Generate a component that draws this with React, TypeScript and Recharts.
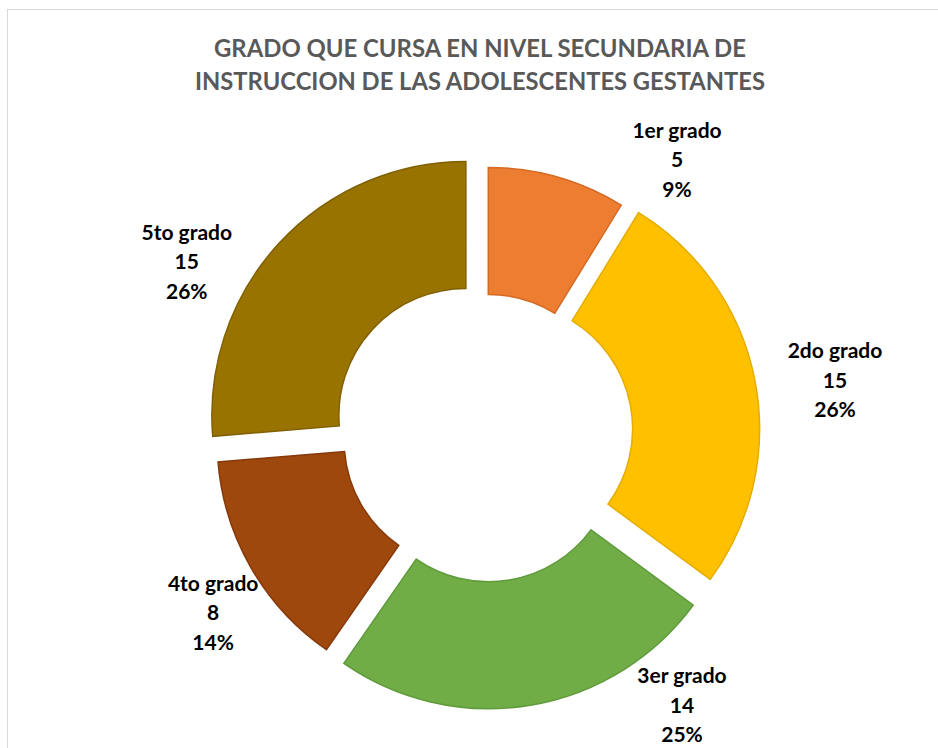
import React from 'react';
import { PieChart, Pie, Cell } from 'recharts';

const CATEGORIES = ['1er grado', '2do grado', '3er grado', '4to grado', '5to grado'];
const VALUES = [5, 15, 14, 8, 15];
const TITLE_LINES = ['GRADO QUE CURSA EN NIVEL SECUNDARIA DE', 'INSTRUCCION DE LAS ADOLESCENTES GESTANTES'];
const TITLE_WIDTHS = [532, 570];

const COLORS = ['#ED7D31', '#FFC000', '#70AD47', '#9E480E', '#997300'];
const STROKES = ['#d46a24', '#e6ad00', '#5f9a3b', '#86390a', '#806000'];
const EXPLODE = [12, 21, 22, 16, 26];
const LABEL_ANGLE = [54.9, 8.6, -54.1, 213.5, 150.1];
const LABEL_RADIUS = [334, 354, 336, 326, 344];

const CX = 480;
const CY = 428;
const R_OUT = 254;
const R_IN = 127;
const FONT = 'Lato, "Open Sans", sans-serif';
const LABEL_SIZE = 21;

const data = CATEGORIES.map((name, i) => ({ name, value: VALUES[i] }));
const total = VALUES.reduce((a, b) => a + b, 0);
const midAngles = (() => {
  let acc = 0;
  return VALUES.map((v) => {
    const start = 90 - (acc / total) * 360;
    acc += v;
    const end = 90 - (acc / total) * 360;
    return (start + end) / 2;
  });
})();

const RAD = Math.PI / 180;

const renderLabel = (props: any) => {
  const { cx, cy, index, value, percent, name } = props;
  const a = LABEL_ANGLE[index] * RAD;
  const x = cx + LABEL_RADIUS[index] * Math.cos(a);
  const y = cy - LABEL_RADIUS[index] * Math.sin(a);
  const lines = [name, String(value), `${Math.round(percent * 100)}%`];
  return (
    <g key={`lbl-${index}`}>
      {lines.map((t, k) => (
        <text
          key={k}
          x={x}
          y={y + (k - 1) * 29.5 + LABEL_SIZE * 0.36}
          textAnchor="middle"
          fontFamily={FONT}
          fontWeight={700}
          fontSize={LABEL_SIZE}
          fill="#000"
        >
          {t}
        </text>
      ))}
    </g>
  );
};

export default function App() {
  return (
    <div style={{ position: 'absolute', left: 0, top: 0, width: 938, height: 748, overflow: 'hidden', background: '#fff' }}>
      <div style={{ position: 'absolute', left: 7, top: 9, width: 980, height: 800, border: '1px solid #d9d9d9' }} />
      <div style={{ position: 'absolute', left: 0, top: 0 }}>
        <PieChart width={938} height={748}>
          {TITLE_LINES.map((t, i) => (
            <text
              key={i}
              x={480}
              y={48 + i * 33 + 9}
              textAnchor="middle"
              fontFamily={FONT}
              fontWeight={700}
              fontSize={25}
              textLength={TITLE_WIDTHS[i]}
              lengthAdjust="spacingAndGlyphs"
              fill="#595959"
            >
              {t}
            </text>
          ))}
          {VALUES.map((_, i) => (
            <Pie
              key={`pie-${i}`}
              data={data}
              dataKey="value"
              nameKey="name"
              cx={CX + EXPLODE[i] * Math.cos(midAngles[i] * RAD)}
              cy={CY - EXPLODE[i] * Math.sin(midAngles[i] * RAD)}
              innerRadius={R_IN}
              outerRadius={R_OUT}
              startAngle={90}
              endAngle={-270}
              isAnimationActive={false}
              label={false}
              labelLine={false}
            >
              {data.map((d, j) => (
                <Cell
                  key={`c-${j}`}
                  fill={j === i ? COLORS[j] : 'transparent'}
                  stroke={j === i ? STROKES[j] : 'none'}
                  strokeWidth={j === i ? 1.5 : 0}
                />
              ))}
            </Pie>
          ))}
          <Pie
            data={data}
            dataKey="value"
            nameKey="name"
            cx={CX}
            cy={CY}
            innerRadius={R_IN}
            outerRadius={R_OUT}
            startAngle={90}
            endAngle={-270}
            isAnimationActive={false}
            fill="transparent"
            stroke="none"
            label={renderLabel}
            labelLine={false}
          >
            {data.map((d, j) => (
              <Cell key={`l-${j}`} fill="transparent" stroke="none" />
            ))}
          </Pie>
        </PieChart>
      </div>
    </div>
  );
}
